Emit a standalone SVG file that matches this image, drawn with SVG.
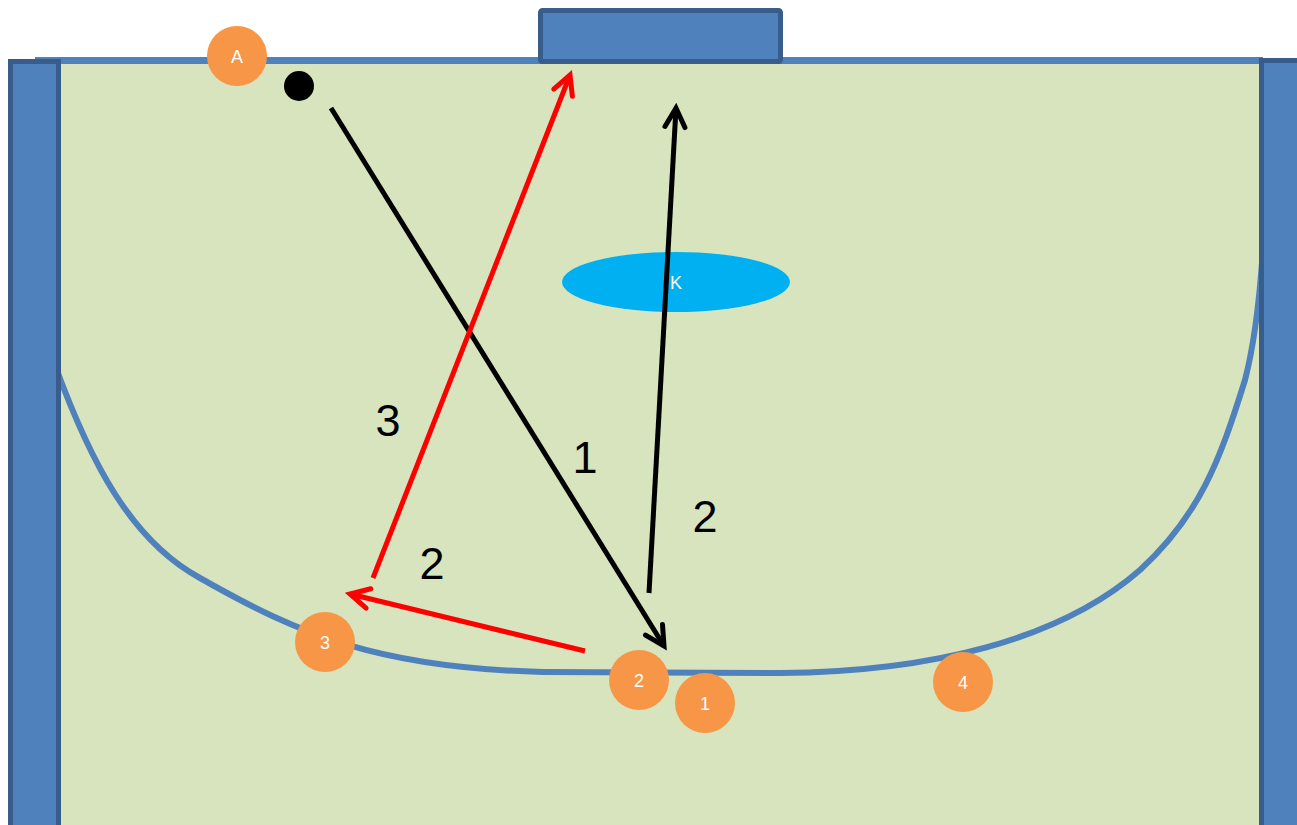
<svg xmlns="http://www.w3.org/2000/svg" width="1297" height="825" viewBox="0 0 1297 825">
<defs>
<style>
.post{fill:#4F81BD;stroke:#385D8A;stroke-width:5}
.line{fill:#4F81BD}
.zone{fill:none;stroke:#4F81BD;stroke-width:6}
.pl{fill:#F79646}
.plt{fill:#FFFFFF;font-family:"Liberation Sans",Arial,sans-serif;font-size:18px;text-anchor:middle}
.lbl{fill:#000000;font-family:"Liberation Sans",Arial,sans-serif;font-size:45px;text-anchor:middle}
.ab{fill:none;stroke:#000000;stroke-width:5}
.ar{fill:none;stroke:#FF0000;stroke-width:5}
</style>
<marker id="mb" markerUnits="userSpaceOnUse" viewBox="-22 -12 26 24" refX="0" refY="0" markerWidth="26" markerHeight="24" orient="auto" overflow="visible">
<path d="M-19,-10 L0,0 L-19,10" fill="none" stroke="#000000" stroke-width="5" stroke-linecap="round" stroke-linejoin="miter"/>
</marker>
<marker id="mr" markerUnits="userSpaceOnUse" viewBox="-22 -12 26 24" refX="0" refY="0" markerWidth="26" markerHeight="24" orient="auto" overflow="visible">
<path d="M-19,-10 L0,0 L-19,10" fill="none" stroke="#FF0000" stroke-width="5" stroke-linecap="round" stroke-linejoin="miter"/>
</marker>
</defs>
<g id="field">
<rect x="60" y="62" width="1202" height="763" fill="#D7E4BD"/>
<path class="zone" d="M56,368 C90,460 130,540 200,578 C300,635 380,668 543,672 L780,673 C930,672 1060,640 1140,570 C1200,515 1220,460 1245,380 C1258,330 1264,250 1266,185"/>
<rect class="line" x="35" y="57" width="1228" height="7"/>
<rect class="post" x="10.5" y="61.5" width="48" height="770"/>
<rect class="post" x="1261.5" y="60.5" width="48" height="770"/>
<rect class="post" x="540.5" y="10.5" width="240" height="51" rx="2"/>
</g>
<g id="ball"><circle cx="299" cy="86" r="15" fill="#000000"/></g>
<g id="keeper">
<ellipse cx="676" cy="282" rx="114" ry="30" fill="#00B0F0"/>
<text class="plt" x="676" y="289">K</text>
</g>
<g id="connectors">
<line class="ab" x1="331" y1="108" x2="664" y2="646" marker-end="url(#mb)"/>
<line class="ab" x1="649" y1="593" x2="676" y2="108" marker-end="url(#mb)"/>
<line class="ar" x1="585" y1="651" x2="350" y2="594" marker-end="url(#mr)"/>
<line class="ar" x1="373" y1="578" x2="570" y2="75" marker-end="url(#mr)"/>
</g>
<g id="labels">
<text class="lbl" x="388" y="436">3</text>
<text class="lbl" x="585" y="473">1</text>
<text class="lbl" x="705" y="532">2</text>
<text class="lbl" x="432" y="579">2</text>
</g>
<g id="pA"><circle class="pl" cx="237" cy="56" r="30"/><text class="plt" x="237" y="63">A</text></g>
<g id="p3"><circle class="pl" cx="325" cy="642" r="30"/><text class="plt" x="325" y="649">3</text></g>
<g id="p2"><circle class="pl" cx="639" cy="680" r="30"/><text class="plt" x="639" y="687">2</text></g>
<g id="p1"><circle class="pl" cx="705" cy="703" r="30"/><text class="plt" x="705" y="710">1</text></g>
<g id="p4"><circle class="pl" cx="963" cy="682" r="30"/><text class="plt" x="963" y="689">4</text></g>
</svg>
